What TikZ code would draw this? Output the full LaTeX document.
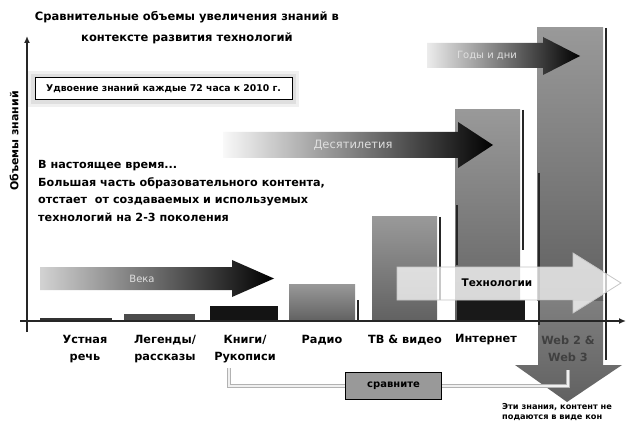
\documentclass[tikz,border=0pt]{standalone}
\usepackage{fontspec}
\setmainfont{DejaVu Sans}
\usetikzlibrary{arrows.meta}
\begin{document}
\begin{tikzpicture}[x=1pt,y=-1pt,
  ttl/.style={font=\bfseries\fontsize{11.5}{21}\selectfont, align=center},
  lbl/.style={font=\bfseries\fontsize{11.3}{17.5}\selectfont, align=center},
  para/.style={font=\bfseries\fontsize{11.2}{17.8}\selectfont, align=left, anchor=north west, inner sep=0pt},
  arrtxt/.style={font=\fontsize{10}{12}\selectfont, text=gray!25},
  barfill/.style={top color=black!40, bottom color=black!62},
  edge/.style={line width=1.3pt, black!85},
  conn/.style={draw=gray!60, double=gray!12, double distance=2.2pt, line width=0.9pt},
  axis/.style={line width=1.4pt, black!85}
]
\useasboundingbox (0,0) rectangle (628,427);
\fill[white] (0,0) rectangle (628,427);

% ---- bars ----
\fill[black!80] (40,318) rectangle (112,321);
\fill[black!70] (124,314) rectangle (195,321);
\fill[black!92] (210,306) rectangle (278,321);
\shade[barfill] (289,284) rectangle (355,321);
\draw[edge] (358,300) -- (358,321);
\shade[barfill] (372,217) rectangle (437,321);
\draw[edge] (440,217) -- (440,300);
\shade[barfill] (455,110) rectangle (520,321);
\draw[edge] (457,205) -- (457,265);
\draw[edge] (523,110) -- (523,250);
\fill[black!90] (457,300) rectangle (525,321);

% ---- down arrow (Web 2 & Web 3) ----
\shade[top color=black!50, bottom color=black!62]
  (538,300) -- (603,300) -- (603,365) -- (622,365) -- (567,402) -- (515,365) -- (538,365) -- cycle;
\shade[barfill] (537,28) rectangle (603,300);
\draw[edge] (539,173) -- (539,325);
\draw[edge] (606,28) -- (606,360);

% ---- gradient arrows ----
\shade[left color=gray!35, middle color=black!85, right color=black]
  (40,267) -- (232,267) -- (232,260) -- (274,278.5) -- (232,297) -- (232,290) -- (40,290) -- cycle;
\shade[left color=gray!5, middle color=black!75, right color=black]
  (223,132) -- (458,132) -- (458,122) -- (493,145) -- (458,168) -- (458,158) -- (223,158) -- cycle;
\shade[left color=gray!15, middle color=black!80, right color=black]
  (427,43) -- (543,43) -- (543,37) -- (580,56) -- (543,75) -- (543,68) -- (427,68) -- cycle;

% ---- white arrow ----
\filldraw[fill=white, fill opacity=0.75, draw=gray!45, line width=0.8pt]
  (397,267) -- (573,267) -- (573,253) -- (621,283) -- (573,313) -- (573,300) -- (397,300) -- cycle;

% ---- axes ----
\draw[axis, -{Latex[length=7pt,width=6pt]}] (27,332) -- (27,36);
\draw[axis, -{Latex[length=7pt,width=6pt]}] (20,321) -- (626,321);

% ---- texts ----
\node[ttl] (title) at (187,28) {Сравнительные объемы увеличения знаний в\\контексте развития технологий};
\node[font=\bfseries\fontsize{11}{12}\selectfont, rotate=90] (ylab) at (14,141) {Объемы знаний};

\fill[gray!12] (28,71) rectangle (299,107);
\fill[gray!25] (31,74) rectangle (296,104);
\node[draw=black, line width=1pt, fill=white, minimum width=257pt, minimum height=22pt,
      inner sep=0pt, font=\bfseries\fontsize{9.3}{10}\selectfont] (dbl) at (163.5,89)
      {Удвоение знаний каждые 72 часа к 2010 г.};

\node[para] (now) at (38,160) {В настоящее время...\\Большая часть образовательного контента,\\отстает\ \ от создаваемых и используемых\\технологий на 2-3 поколения};

\node[arrtxt] (veka) at (142,279) {Века};
\node[arrtxt, font=\fontsize{11.5}{12}\selectfont] (dec) at (353,145) {Десятилетия};
\node[arrtxt] (gody) at (487,56) {Годы и дни};
\node[font=\bfseries\fontsize{10.5}{12}\selectfont] (tech) at (497,283) {Технологии};

\node[lbl] (l1) at (85,349) {Устная\\речь};
\node[lbl] (l2) at (165,349) {Легенды/\\рассказы};
\node[lbl] (l3) at (245,349) {Книги/\\Рукописи};
\node[lbl] (l4) at (322,340) {Радио};
\node[lbl] (l5) at (405,340) {ТВ \& видео};
\node[lbl] (l6) at (486,340) {Интернет};
\node[lbl, text=black!75] (l7) at (568,349) {Web 2 \&\\Web 3};

% ---- compare box and connectors ----
\node[draw=black, line width=1.4pt, fill=black!40, minimum width=96pt, minimum height=27pt,
      font=\bfseries\fontsize{10}{11}\selectfont] (cmp) at (393.5,386) {сравните};
\coordinate (c1) at (229,368);
\coordinate (c2) at (568,370);
\draw[conn] (c1) |- (cmp.west);
\draw[conn] (cmp.east) -| (c2);

\node[anchor=west, font=\bfseries\fontsize{8.2}{9}\selectfont, inner sep=0pt] (n1) at (502,407) {Эти знания, контент не};
\node[anchor=west, font=\bfseries\fontsize{8.2}{9}\selectfont, inner sep=0pt] (n2) at (502,418) {подаются в виде кон};
\end{tikzpicture}
\end{document}
